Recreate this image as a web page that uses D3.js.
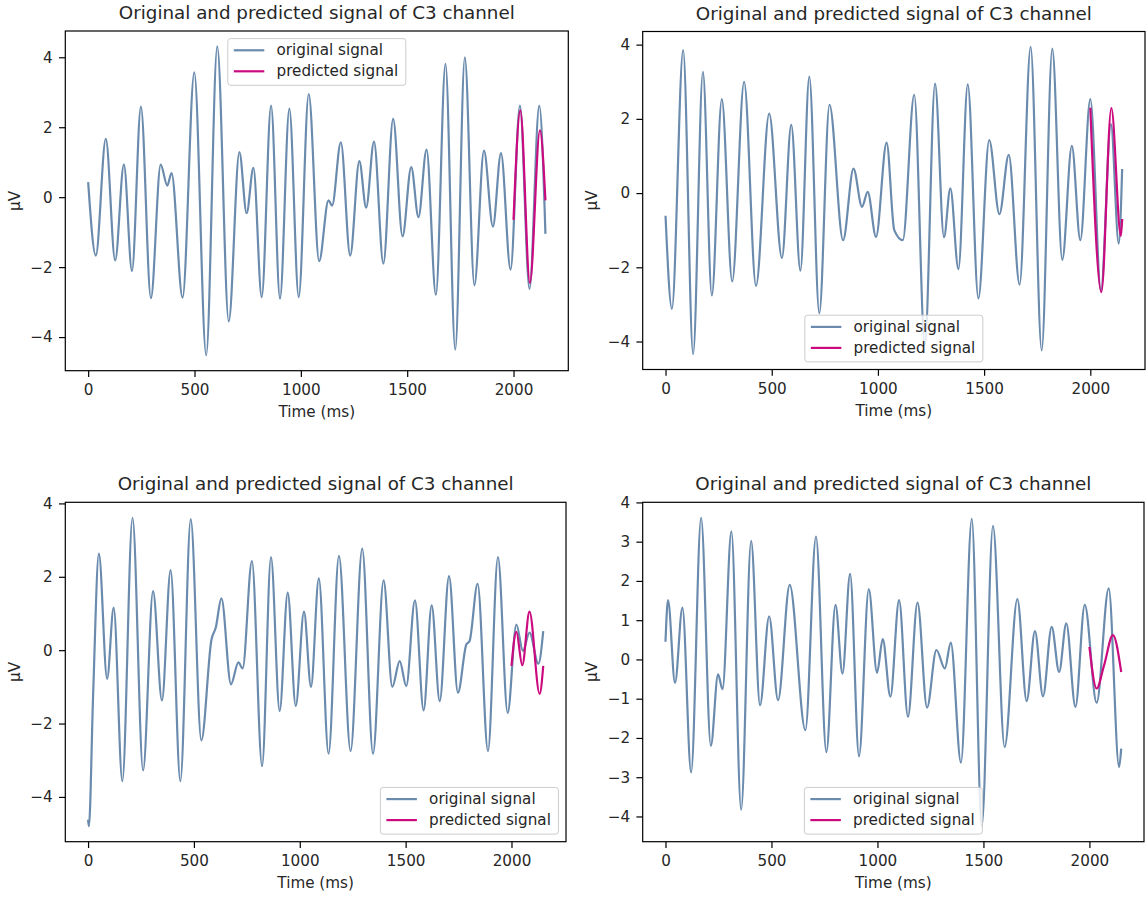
<!DOCTYPE html>
<html>
<head>
<meta charset="utf-8">
<script src="https://cdn.jsdelivr.net/npm/d3@7/dist/d3.min.js"></script>
<style>
  body { margin: 0; background: #ffffff; }
</style>
</head>
<body>
<div class="chart"></div>
<script>
var xTicks = [0, 500, 1000, 1500, 2000];
var yTicksWide = [-4, -2, 0, 2, 4];
var yTicksNarrow = [-4, -3, -2, -1, 0, 1, 2, 3, 4];

var titleText = "Original and predicted signal of C3 channel";
var seriesNames = ["original signal", "predicted signal"];

var originalTL = [[0,0.43],[36,-1.67],[83,1.67],[127,-1.81],[168,0.93],[206,-2.11],[248,2.59],[295,-2.89],[341,0.93],[372,0.33],[392,0.69],[444,-2.87],[499,3.57],[555,-4.52],[607,4.31],[661,-3.55],[711,1.29],[745,-0.46],[777,0.84],[816,-2.86],[860,2.62],[902,-2.9],[946,2.53],[990,-2.86],[1037,2.95],[1086,-1.83],[1130,-0.09],[1147,-0.24],[1188,1.57],[1232,-1.67],[1275,1.03],[1307,-0.3],[1344,1.59],[1388,-1.9],[1434,2.24],[1478,-1.12],[1519,0.86],[1553,-0.57],[1591,1.36],[1635,-2.79],[1680,3.81],[1726,-4.36],[1771,4.0],[1816,-2.52],[1861,1.33],[1903,-0.84],[1941,1.26],[1986,-2.07],[2030,2.62],[2075,-2.62],[2121,2.62],[2150,-1.05]];
var predictedTL = [[2000,-0.65],[2032,2.48],[2077,-2.45],[2124,1.91],[2150,-0.09]];

var originalTR = [[0,-0.61],[30,-3.12],[83,3.85],[130,-4.34],[176,3.27],[218,-2.76],[265,2.53],[314,-2.38],[370,3.0],[426,-2.5],[488,2.14],[548,-1.75],[592,1.84],[635,-2.09],[677,3.14],[724,-3.24],[772,2.38],[836,-1.27],[885,0.66],[925,-0.37],[952,0.03],[991,-1.18],[1041,1.36],[1077,-1.0],[1117,-1.27],[1171,2.65],[1221,-4.1],[1269,2.95],[1311,-1.19],[1341,0.13],[1379,-2.05],[1423,2.93],[1473,-2.84],[1524,1.43],[1572,-0.57],[1616,1.03],[1667,-2.47],[1719,3.94],[1771,-4.24],[1821,3.89],[1868,-1.8],[1913,1.27],[1953,-1.27],[2000,2.53],[2050,-2.63],[2097,1.86],[2134,-1.36],[2150,0.65]];
var predictedTR = [[2000,2.3],[2052,-2.67],[2099,2.29],[2144,-1.15],[2150,-0.7]];

var originalBL = [[0,-4.62],[4,-4.8],[24,-1.2],[51,2.63],[90,-0.78],[121,1.16],[162,-3.57],[210,3.61],[260,-3.28],[307,1.61],[349,-1.37],[390,2.18],[436,-3.57],[485,3.57],[535,-2.46],[583,0.29],[603,0.61],[630,1.41],[675,-0.93],[710,-0.33],[730,-0.5],[774,2.43],[822,-3.16],[864,2.54],[905,-1.66],[943,1.57],[981,-1.52],[1020,1.05],[1053,-1.0],[1090,1.96],[1136,-2.82],[1185,2.57],[1240,-2.75],[1295,2.77],[1346,-2.82],[1396,1.9],[1437,-1.0],[1472,-0.3],[1503,-0.98],[1544,1.36],[1585,-1.64],[1623,1.22],[1661,-1.39],[1705,2.02],[1747,-1.16],[1787,0.16],[1802,0.25],[1840,1.81],[1889,-2.75],[1936,2.54],[1982,-1.71],[2023,0.7],[2054,-0.02],[2085,0.48],[2127,-0.37],[2150,0.52]];
var predictedBL = [[2000,-0.43],[2023,0.5],[2051,-0.41],[2085,1.05],[2133,-1.19],[2150,-0.43]];

var originalBR = [[0,0.45],[12,1.51],[45,-0.6],[80,1.32],[121,-2.88],[168,3.61],[214,-2.2],[248,-0.38],[269,-0.76],[311,3.26],[357,-3.83],[404,3.02],[446,-1.17],[489,1.1],[531,-1.04],[586,1.9],[660,-1.8],[710,3.13],[759,-2.36],[802,1.39],[835,-0.36],[871,2.18],[913,-2.47],[959,1.79],[998,-0.34],[1025,0.52],[1061,-0.95],[1102,1.51],[1144,-1.46],[1189,1.45],[1234,-1.23],[1278,0.24],[1318,-0.23],[1346,0.43],[1394,-2.63],[1445,3.58],[1492,-4.25],[1545,3.4],[1600,-2.23],[1660,1.54],[1704,-1.06],[1743,0.72],[1781,-0.94],[1822,0.83],[1857,-0.32],[1891,0.92],[1934,-1.21],[1978,1.39],[2034,-1.1],[2091,1.81],[2140,-2.74],[2150,-2.27]];
var predictedBR = [[2000,0.32],[2034,-0.74],[2069,-0.15],[2111,0.62],[2150,-0.32]];

var svgWidth = 1148;
var svgHeight = 898;
var origColor = "#6a8bad";
var predColor = "#cc0a80";
var fontFamily = "DejaVu Sans, sans-serif";
var baseSize = 15.2;
var titleSize = 18.3;
var tickLen = 6.3;

var panels = [
  {left: 65.3, top: 31, width: 503, height: 339.7, original: originalTL, predicted: predictedTL, yTicks: yTicksWide, legend: "upper center"},
  {left: 642.7, top: 31.5, width: 502.3, height: 338, original: originalTR, predicted: predictedTR, yTicks: yTicksWide, legend: "lower center"},
  {left: 65.3, top: 502.3, width: 500.7, height: 339.4, original: originalBL, predicted: predictedBL, yTicks: yTicksWide, legend: "lower right"},
  {left: 642.7, top: 502.3, width: 501.3, height: 339.4, original: originalBR, predicted: predictedBR, yTicks: yTicksNarrow, legend: "lower center"}
];

var svg = d3.select(".chart")
  .append("svg")
  .attr("width", svgWidth)
  .attr("height", svgHeight)
  .style("font-family", fontFamily);

function paddedDomain(values) {
  var lo = d3.min(values), hi = d3.max(values);
  var pad = (hi - lo) * 0.05;
  return [lo - pad, hi + pad];
}

function drawPanel(p) {
  var w = p.width, h = p.height;
  var all = p.original.concat(p.predicted);

  var x = d3.scaleLinear()
    .domain(paddedDomain(all.map(d => d[0])))
    .range([0, w]);
  var y = d3.scaleLinear()
    .domain(paddedDomain(all.map(d => d[1])))
    .range([h, 0]);

  var g = svg.append("g")
    .attr("transform", `translate(${p.left}, ${p.top})`);

  var line = d3.line()
    .x(d => x(d[0]))
    .y(d => y(d[1]))
    .curve(d3.curveMonotoneX);

  g.append("path")
    .datum(p.original)
    .attr("d", line)
    .attr("fill", "none")
    .attr("stroke", origColor)
    .attr("stroke-width", 2.2);

  g.append("path")
    .datum(p.predicted)
    .attr("d", line)
    .attr("fill", "none")
    .attr("stroke", predColor)
    .attr("stroke-width", 2.2);

  var xAxis = g.append("g")
    .attr("transform", `translate(0, ${h})`)
    .call(d3.axisBottom(x).tickValues(xTicks).tickSize(tickLen).tickSizeOuter(0).tickPadding(7.7)
      .tickFormat(d3.format("d")));
  var yAxis = g.append("g")
    .call(d3.axisLeft(y).tickValues(p.yTicks).tickSize(tickLen).tickSizeOuter(0).tickPadding(6.3)
      .tickFormat(d3.format("d")));

  [xAxis, yAxis].forEach(function(a) {
    a.attr("font-family", fontFamily).attr("font-size", baseSize);
    a.select(".domain").remove();
    a.selectAll(".tick line").attr("stroke", "#000").attr("stroke-width", 1.2);
    a.selectAll(".tick text").attr("fill", "#262626");
  });

  g.append("rect")
    .attr("width", w)
    .attr("height", h)
    .attr("fill", "none")
    .attr("stroke", "#000")
    .attr("stroke-width", 1.2);

  g.append("text")
    .attr("x", w / 2)
    .attr("y", -12)
    .attr("text-anchor", "middle")
    .attr("font-size", titleSize)
    .attr("fill", "#262626")
    .text(titleText);

  g.append("text")
    .attr("x", w / 2)
    .attr("y", h + 46.6)
    .attr("text-anchor", "middle")
    .attr("font-size", baseSize)
    .attr("fill", "#262626")
    .text("Time (ms)");

  g.append("text")
    .attr("transform", `translate(-45.8, ${h / 2}) rotate(-90)`)
    .attr("text-anchor", "middle")
    .attr("font-size", baseSize)
    .attr("fill", "#262626")
    .text("µV");

  var legW = 178, legH = 46.7, legPad = 7.6;
  var lx, ly;
  if (p.legend === "upper center") {
    lx = w / 2 - legW / 2; ly = legPad;
  }
  else if (p.legend === "lower center") {
    lx = w / 2 - legW / 2; ly = h - legPad - legH;
  }
  else {
    lx = w - legPad - legW; ly = h - legPad - legH;
  }

  var leg = g.append("g")
    .attr("transform", `translate(${lx}, ${ly})`);

  leg.append("rect")
    .attr("width", legW)
    .attr("height", legH)
    .attr("rx", 2.8)
    .attr("fill", "#fff")
    .attr("fill-opacity", 0.8)
    .attr("stroke", "#cccccc")
    .attr("stroke-width", 1);

  var rows = [11.7, 32.7];
  var colors = [origColor, predColor];
  rows.forEach(function(ry, i) {
    leg.append("line")
      .attr("x1", 6).attr("x2", 36.5)
      .attr("y1", ry).attr("y2", ry)
      .attr("stroke", colors[i])
      .attr("stroke-width", 2.2);
    leg.append("text")
      .attr("x", 48.7)
      .attr("y", ry + 5)
      .attr("font-size", baseSize)
      .attr("fill", "#262626")
      .text(seriesNames[i]);
  });
}

panels.forEach(drawPanel);
</script>
</body>
</html>
